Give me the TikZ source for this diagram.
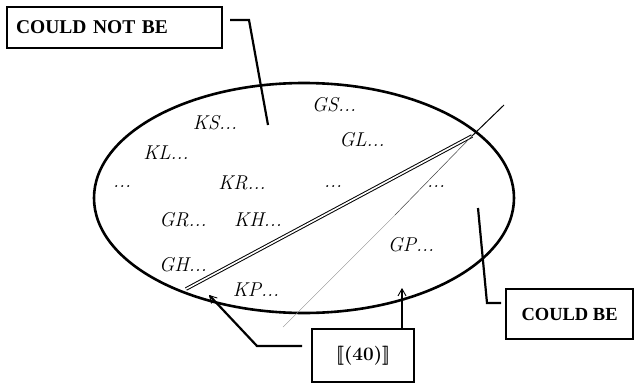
\documentclass[tikz,border=0pt]{standalone}
\usepackage{fontspec}
\newfontfamily\boxfont{Liberation Serif}
\usetikzlibrary{arrows.meta}
\newcommand{\dblopen}{[\kern-0.19em[}
\newcommand{\dblclose}{]\kern-0.19em]}
\tikzset{
  lbl/.style={inner sep=0pt, font=\fontsize{20}{24}\selectfont\itshape},
  labelbox/.style={draw, line width=2.2pt, inner sep=0pt},
  conn/.style={line width=2.2pt},
  arr/.style={conn, -{Straight Barb[length=7pt,width=8pt,line width=0.9pt]}}
}
\begin{document}
\begin{tikzpicture}[x=1pt,y=-1pt]
\useasboundingbox (0,0) rectangle (635,383);
% ellipse
\draw[line width=2.6pt] (304,198) ellipse [x radius=210, y radius=115];
% lines
\coordinate (cross) at (472,136);
\coordinate (dblstart) at (186,289);
\coordinate (thintop) at (504,105);
\coordinate (thinend) at (283,327);
\draw[line width=1pt, double=white, double distance=1.6pt] (dblstart) -- (cross);
\draw[line width=1pt] (thintop) -- (cross);
\draw[line width=0.5pt, black!75] (cross) -- (395,215);
\draw[line width=0.35pt, black!45] (395,215) -- (thinend);
% labels
\node[lbl] (ks) at (215,123) {KS...};
\node[lbl] (gs) at (334,105) {GS...};
\node[lbl] (kl) at (166,153) {KL...};
\node[lbl] (gl) at (362,140) {GL...};
\node[lbl] (d1) at (122,187) {...};
\node[lbl] (kr) at (242,183) {KR...};
\node[lbl] (d2) at (333,187) {...};
\node[lbl] (d3) at (436,187) {...};
\node[lbl] (gr) at (183,220) {GR...};
\node[lbl] (kh) at (258,220) {KH...};
\node[lbl] (gp) at (411,245) {GP...};
\node[lbl] (gh) at (183,265) {GH...};
\node[lbl] (kp) at (256,290) {KP...};
% boxes
\node[labelbox, minimum width=215pt, minimum height=41pt, anchor=north west, text width=197pt, align=left, font=\boxfont\bfseries\fontsize{19.5}{22}\selectfont] (cnb) at (6,6) {COULD NOT BE};
\node[labelbox, minimum width=127pt, minimum height=50pt, anchor=north west, font=\boxfont\bfseries\fontsize{18.5}{22}\selectfont] (cb) at (505,288) {COULD BE};
\node[labelbox, minimum width=102pt, minimum height=53pt, anchor=north west, font=\bfseries\fontsize{19}{22}\selectfont] (forty) at (311,328) {\dblopen(40)\dblclose};
% connectors
\coordinate (c1a) at (230,20);
\coordinate (c1b) at (249,20);
\coordinate (c1c) at (268,125);
\draw[conn] (c1a) -- (c1b) -- (c1c);
\coordinate (c2a) at (478,208);
\coordinate (c2b) at (487,303);
\coordinate (c2c) at (501,303);
\draw[conn] (c2a) -- (c2b) -- (c2c);
\coordinate (c3a) at (302,346);
\coordinate (c3b) at (257,346);
\coordinate (c3c) at (209,295);
\draw[arr] (c3a) -- (c3b) -- (c3c);
\coordinate (c4) at (402,288);
\draw[arr] (forty.north -| c4) -- (c4);
\end{tikzpicture}
\end{document}
